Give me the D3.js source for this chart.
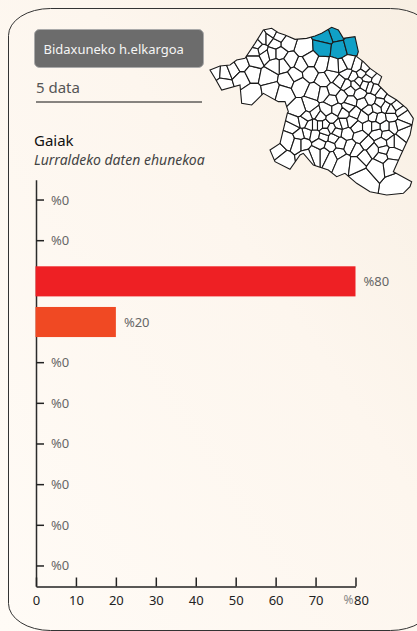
<!DOCTYPE html>
<html lang="en">
<head>
<meta charset="utf-8">
<title>Gaiak</title>
<script src="https://cdn.jsdelivr.net/npm/d3@7/dist/d3.min.js"></script>
<style>
  html, body { margin: 0; padding: 0; overflow: hidden; background: #fdf7f0; }
  svg { display: block; font-family: "Noto Sans", sans-serif; }
</style>
</head>
<body>
<script>
var width = 417;
var height = 631;

var title = "Bidaxuneko h.elkargoa";
var dataCount = "5 data";
var heading = "Gaiak";
var subheading = "Lurraldeko daten ehunekoa";

// rows of the chart, top to bottom (the rows carry no names in the picture)
var rows = [0, 1, 2, 3, 4, 5, 6, 7, 8, 9];
var values = [0, 0, 80, 20, 0, 0, 0, 0, 0, 0];
var barColors = ["#ee2024", "#ee2024", "#ee2024", "#f04923", "#ee2024", "#ee2024", "#ee2024", "#ee2024", "#ee2024", "#ee2024"];
var xTicks = [0, 10, 20, 30, 40, 50, 60, 70, 80];

// municipality map: outer border + one seed per municipality
var mapOutline = [[30,180],[60,168],[90,165],[110,150],[135,145],[165,100],[190,60],[215,55],[235,68],[255,75],[285,88],[320,85],[345,78],[365,70],[395,52],[415,60],[430,85],[465,80],[475,125],[470,140],[490,155],[510,175],[545,200],[535,225],[565,255],[590,270],[620,295],[640,325],[630,375],[600,440],[580,485],[635,515],[630,530],[610,550],[560,555],[510,545],[470,520],[435,490],[410,500],[385,480],[340,465],[310,430],[300,435],[270,478],[225,455],[210,420],[240,400],[262,310],[265,305],[255,275],[235,275],[190,250],[155,285],[125,280],[120,225],[65,240],[45,205]];
var mapSeeds = [[45,188],[75,190],[70,222],[100,180],[125,205],[125,165],[155,190],[155,250],[165,150],[185,120],[205,85],[225,100],[195,135],[240,130],[205,200],[215,240],[250,165],[262,210],[250,250],[225,165],[310,115],[262,100],[305,165],[300,225],[330,190],[365,165],[370,210],[345,245],[395,195],[430,170],[420,215],[450,240],[395,270],[330,290],[300,300],[345,310],[280,350],[230,425],[250,450],[265,390],[285,340],[320,370],[310,400],[330,345],[345,375],[375,345],[395,325],[415,345],[360,320],[395,355],[430,310],[465,310],[490,280],[480,250],[510,230],[530,210],[495,175],[470,170],[460,200],[510,270],[545,250],[555,290],[590,290],[610,320],[575,320],[520,320],[555,350],[610,370],[590,395],[560,375],[530,370],[505,350],[470,350],[440,370],[400,385],[370,380],[375,430],[345,430],[320,440],[415,430],[450,410],[500,400],[545,400],[575,430],[545,440],[490,440],[590,520],[490,505],[570,465],[408,70],[375,82],[368,112],[418,118],[455,108],[440,190],[475,215],[500,205],[450,275],[425,260],[540,280],[600,345],[480,380],[420,400],[170,105],[215,70],[190,85],[165,125],[235,80],[215,130],[270,150],[285,195],[330,150],[400,172],[445,162],[485,190],[510,190],[525,235],[495,225],[465,225],[440,225],[400,240],[370,250],[410,300],[445,290],[380,300],[310,335],[320,320],[345,345],[360,345],[375,365],[410,365],[430,340],[455,335],[490,320],[505,300],[530,295],[570,265],[600,305],[580,350],[575,300],[540,325],[525,350],[575,395],[550,420],[520,420],[470,420],[395,440],[430,455],[360,400],[390,410],[300,375],[295,400],[470,460],[530,470]];
var mapHighlighted = [[408,70],[375,82],[368,112],[418,118],[455,108]];

var svg = d3.select("body").append("svg")
  .attr("width", width)
  .attr("height", height);

var defs = svg.append("defs");
var grad = defs.append("linearGradient")
  .attr("id", "bg")
  .attr("x1", "0").attr("y1", "1")
  .attr("x2", "1").attr("y2", "0");
grad.append("stop").attr("offset", "0").attr("stop-color", "#fffbf6");
grad.append("stop").attr("offset", "0.6").attr("stop-color", "#fdf6ee");
grad.append("stop").attr("offset", "1").attr("stop-color", "#f8efe3");

svg.append("rect").attr("width", width).attr("height", height).attr("fill", "url(#bg)");

// panel runs off the right and bottom of the window
svg.append("rect")
  .attr("x", 8.5).attr("y", 8.5)
  .attr("width", 424).attr("height", 622)
  .attr("rx", 42).attr("ry", 27)
  .attr("fill", "none")
  .attr("stroke", "#333")
  .attr("stroke-width", 1);

// header
svg.append("rect")
  .attr("x", 34.5).attr("y", 29.5)
  .attr("width", 169).attr("height", 38)
  .attr("rx", 5)
  .attr("fill", "#6c6c6c")
  .attr("stroke", "#aaa");
svg.append("text").attr("x", 43.5).attr("y", 53.5)
  .attr("font-size", 13).attr("fill", "#f5f5f5").text(title);
svg.append("text").attr("x", 36).attr("y", 93)
  .attr("font-size", 15).attr("fill", "#555").text(dataCount);
svg.append("line").attr("x1", 36).attr("x2", 202).attr("y1", 102).attr("y2", 102)
  .attr("stroke", "#111");
svg.append("text").attr("x", 34).attr("y", 146)
  .attr("font-size", 15).attr("fill", "#111").text(heading);
svg.append("text").attr("x", 34).attr("y", 164.5)
  .attr("font-size", 14).attr("font-style", "italic").attr("fill", "#444").text(subheading);

// map
var mapX = d3.scaleLinear().domain([0, 651]).range([200, 417]);
var mapY = d3.scaleLinear().domain([0, 570]).range([10, 200]);
var mapLine = d3.line().x(function(d) { return mapX(d[0]); }).y(function(d) { return mapY(d[1]); }).curve(d3.curveLinearClosed);

defs.append("clipPath").attr("id", "mapClip")
  .append("path").attr("d", mapLine(mapOutline));

var voronoi = d3.Delaunay.from(mapSeeds).voronoi([0, 0, 651, 570]);
var isBlue = {};
mapHighlighted.forEach(function(d) { isBlue[d.join()] = true; });

svg.append("g").attr("clip-path", "url(#mapClip)")
  .selectAll("path")
  .data(mapSeeds)
  .enter()
  .append("path")
  .attr("d", function(d, i) { return mapLine(voronoi.cellPolygon(i)); })
  .attr("fill", function(d) { return isBlue[d.join()] ? "#10a0c6" : "#fff"; })
  .attr("stroke", "#1a1a1a")
  .attr("stroke-width", 1.1);

svg.append("path")
  .attr("d", mapLine(mapOutline))
  .attr("fill", "none")
  .attr("stroke", "#1a1a1a")
  .attr("stroke-width", 1.1);

// chart
var x = d3.scaleLinear().domain([0, 80]).range([36, 355.5]);
var y = d3.scaleBand().domain(rows).range([179.7, 586.3]).paddingInner(0.26).paddingOuter(0.13);

svg.append("g")
  .attr("transform", "translate(36,0)")
  .call(d3.axisRight(y).tickSizeInner(8).tickSizeOuter(0).tickFormat(""))
  .call(function(g) {
    g.select(".domain").attr("stroke", "#2b2b2b").attr("stroke-width", 1.5);
    g.selectAll(".tick line").attr("stroke", "#222").attr("stroke-width", 1.5);
  });

svg.selectAll(".bar")
  .data(values)
  .enter()
  .append("rect")
  .attr("class", "bar")
  .attr("x", x(0) - 0.5)
  .attr("y", function(d, i) { return y(rows[i]); })
  .attr("width", function(d) { return x(d) - x(0) + (d > 0 ? 0.5 : 0); })
  .attr("height", y.bandwidth())
  .attr("fill", function(d, i) { return barColors[i]; });

svg.selectAll(".val")
  .data(values)
  .enter()
  .append("text")
  .attr("class", "val")
  .attr("x", function(d) { return d > 0 ? x(d) + 8 : 51; })
  .attr("y", function(d, i) { return y(rows[i]) + y.bandwidth() / 2 + 4.5; })
  .attr("font-size", 13)
  .attr("fill", "#666")
  .text(function(d) { return "%" + d; });

var xAxis = svg.append("g")
  .attr("transform", "translate(0,586.5)")
  .call(d3.axisBottom(x).tickValues(xTicks).tickSizeInner(-9).tickSizeOuter(0).tickPadding(9).tickFormat(function(d) { return d; }));
xAxis.select(".domain").attr("stroke", "#222").attr("stroke-width", 1.5);
xAxis.selectAll(".tick line").attr("stroke", "#222").attr("stroke-width", 1.5);
xAxis.selectAll(".tick text")
  .attr("font-family", "'Noto Sans', sans-serif")
  .attr("font-size", 13)
  .attr("fill", "#222");

// the last tick label carries the % sign in front, in grey
var lastTick = xAxis.selectAll(".tick").filter(function(d) { return d === 80; });
lastTick.select("text")
  .attr("text-anchor", "start")
  .attr("x", -2);
lastTick.append("text")
  .attr("x", -2.5).attr("y", 9)
  .attr("dy", "0.71em")
  .attr("text-anchor", "end")
  .attr("font-family", "'Noto Sans', sans-serif")
  .attr("font-size", 12)
  .attr("fill", "#888")
  .text("%");
</script>
</body>
</html>
